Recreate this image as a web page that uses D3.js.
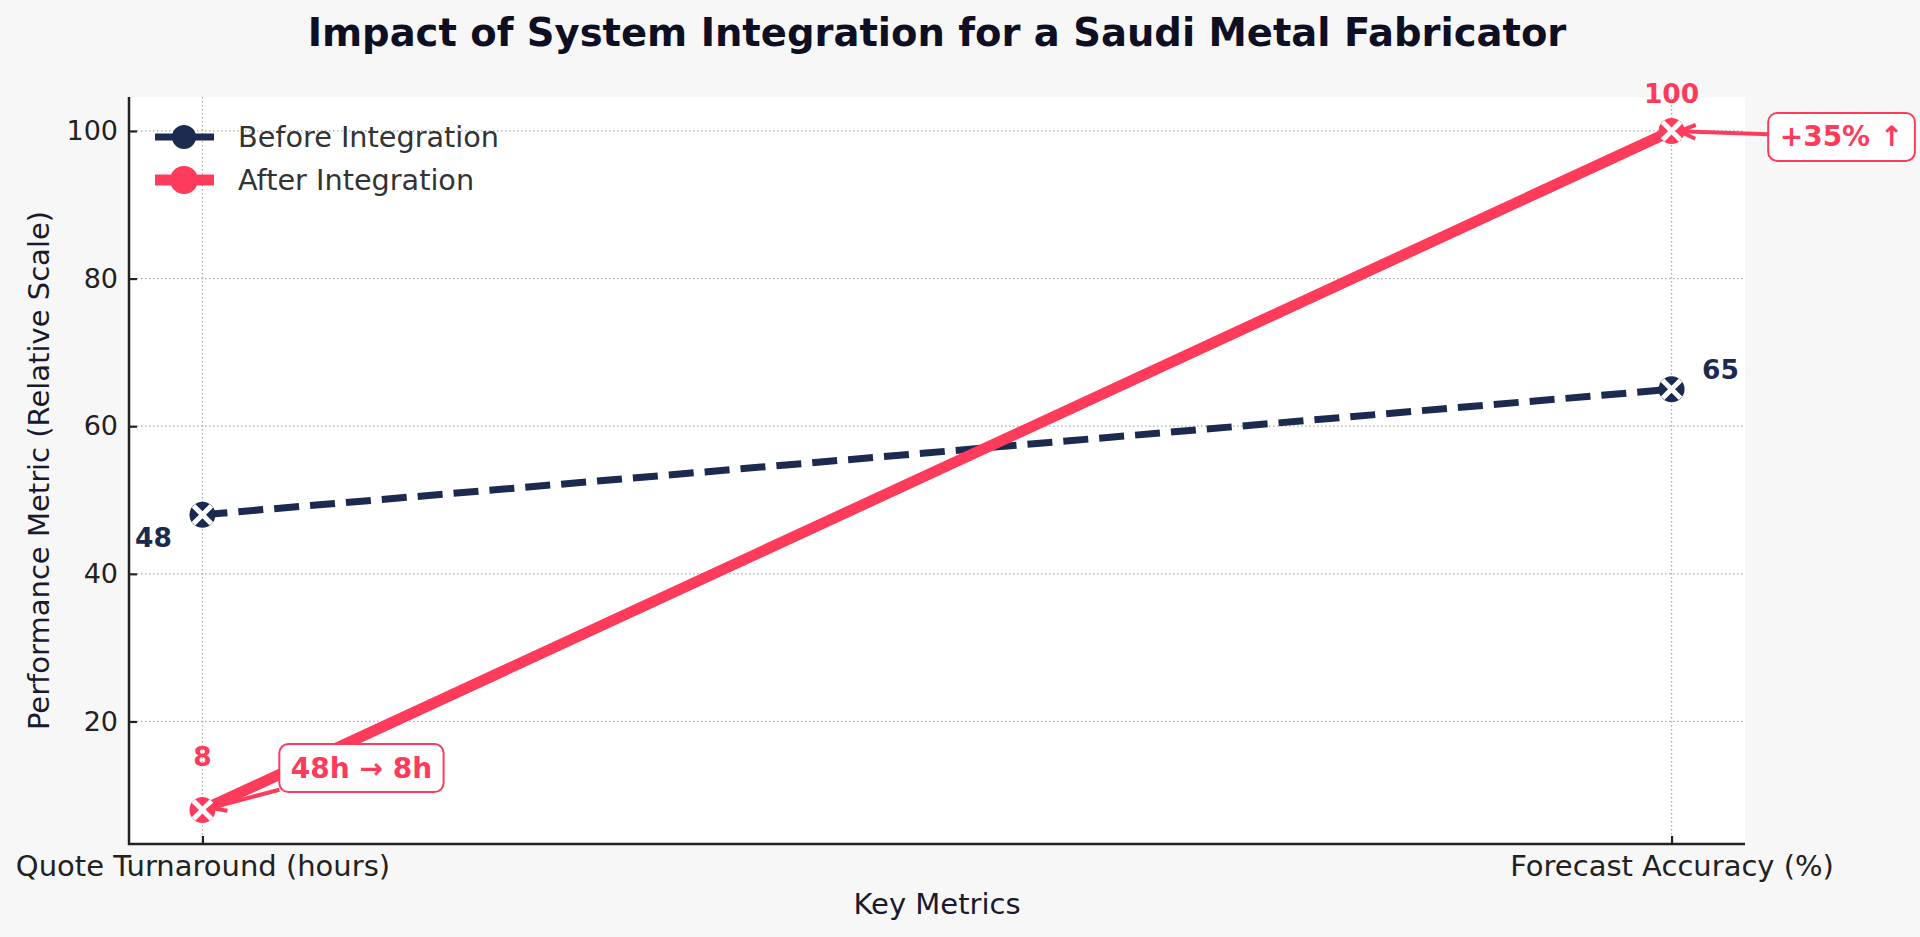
<!DOCTYPE html>
<html>
<head>
<meta charset="utf-8">
<script src="https://cdn.jsdelivr.net/npm/d3@7/dist/d3.min.js"></script>
<style>
  html, body { margin: 0; padding: 0; background: #f7f7f7; }
  svg { display: block; font-family: "DejaVu Sans", sans-serif; }
</style>
</head>
<body>
<svg id="chart" width="1920" height="937"></svg>
<script>
// ---- data ----
const categories = ["Quote Turnaround (hours)", "Forecast Accuracy (%)"];
const beforeValues = [48, 65];
const afterValues = [8, 100];
const seriesNames = ["Before Integration", "After Integration"];
const yTicks = [20, 40, 60, 80, 100];
const annotationTexts = ["48h \u2192 8h", "+35% \u2191"];
const titleText = "Impact of System Integration for a Saudi Metal Fabricator";
const xLabelText = "Key Metrics";
const yLabelText = "Performance Metric (Relative Scale)";

// ---- layout ----
const W = 1920, H = 937;
const plot = { left: 129, right: 1745, top: 97, bottom: 844 };
const navy = "#1b2a4e", pink = "#ff3b5c";

const svg = d3.select("#chart");
svg.append("rect").attr("width", W).attr("height", H).attr("fill", "#f7f7f7");
svg.append("rect").attr("x", plot.left).attr("y", plot.top)
  .attr("width", plot.right - plot.left).attr("height", plot.bottom - plot.top)
  .attr("fill", "#ffffff");

const allVals = beforeValues.concat(afterValues);
const yMin = d3.min(allVals), yMax = d3.max(allVals);
const yPad = (yMax - yMin) * 0.05;
const x = d3.scaleLinear().domain([-0.05, categories.length - 1 + 0.05]).range([plot.left, plot.right]);
const y = d3.scaleLinear().domain([yMin - yPad, yMax + yPad]).range([plot.bottom, plot.top]);

// grid
const grid = svg.append("g");
grid.selectAll("line.hg").data(yTicks).enter().append("line")
  .attr("x1", plot.left).attr("x2", plot.right)
  .attr("y1", d => y(d)).attr("y2", d => y(d))
  .attr("stroke", "#a8a8a8").attr("stroke-width", 1.3).attr("stroke-dasharray", "1.5,2.5");
grid.selectAll("line.vg").data(categories.map((c, i) => i)).enter().append("line")
  .attr("y1", plot.top).attr("y2", plot.bottom)
  .attr("x1", d => x(d)).attr("x2", d => x(d))
  .attr("stroke", "#a8a8a8").attr("stroke-width", 1.3).attr("stroke-dasharray", "1.5,2.5");

// axes
const yAxis = d3.axisLeft(y).tickValues(yTicks).tickSizeInner(-8).tickSizeOuter(0).tickPadding(11);
const gy = svg.append("g").attr("transform", `translate(${plot.left},0)`).call(yAxis);
const xAxis = d3.axisBottom(x).tickValues(categories.map((c, i) => i)).tickFormat(i => categories[i])
  .tickSizeInner(-8).tickSizeOuter(0).tickPadding(11);
const gx = svg.append("g").attr("transform", `translate(0,${plot.bottom})`).call(xAxis);
[gx, gy].forEach(g => {
  g.select(".domain").remove();
  g.selectAll("line").attr("stroke", "#222").attr("stroke-width", 2.2);
  g.selectAll("text").attr("fill", "#222").attr("font-size", 27).attr("font-family", "DejaVu Sans");
});
gx.selectAll("text").attr("font-size", 29);
svg.append("line").attr("x1", plot.left).attr("x2", plot.left).attr("y1", plot.top).attr("y2", plot.bottom + 1)
  .attr("stroke", "#222").attr("stroke-width", 2.5);
svg.append("line").attr("x1", plot.left - 1).attr("x2", plot.right).attr("y1", plot.bottom).attr("y2", plot.bottom)
  .attr("stroke", "#222").attr("stroke-width", 2.5);

// titles
svg.append("text").attr("x", (plot.left + plot.right) / 2).attr("y", 46)
  .attr("text-anchor", "middle").attr("font-weight", "bold").attr("font-size", 38.5)
  .attr("fill", "#0f0f24").text(titleText);
svg.append("text").attr("x", (plot.left + plot.right) / 2).attr("y", 914)
  .attr("text-anchor", "middle").attr("font-size", 29).attr("fill", "#1a1a2e").text(xLabelText);
svg.append("text").attr("transform", `translate(49,${(plot.top + plot.bottom) / 2}) rotate(-90)`)
  .attr("text-anchor", "middle").attr("font-size", 29).attr("fill", "#1a1a2e").text(yLabelText);

// lines
const line = d3.line().x((d, i) => x(i)).y(d => y(d));
svg.append("path").datum(beforeValues).attr("d", line).attr("fill", "none")
  .attr("stroke", navy).attr("stroke-width", 7).attr("stroke-dasharray", "25,11");
svg.append("path").datum(afterValues).attr("d", line).attr("fill", "none")
  .attr("stroke", pink).attr("stroke-width", 11).attr("stroke-linecap", "butt");

// markers
function drawMarkers(vals, color) {
  const g = svg.append("g");
  vals.forEach((v, i) => {
    const cx = x(i), cy = y(v);
    g.append("circle").attr("cx", cx).attr("cy", cy).attr("r", 13).attr("fill", color);
    const s = 9;
    g.append("path").attr("d", `M${cx - s},${cy - s}L${cx + s},${cy + s}M${cx - s},${cy + s}L${cx + s},${cy - s}`)
      .attr("stroke", "#fff").attr("stroke-width", 5);
  });
}
drawMarkers(beforeValues, navy);
drawMarkers(afterValues, pink);

// value labels
const beforeLabelOffsets = [[-49, 32], [49, -10]];
const afterLabelOffsets = [[0, -44], [0, -28]];
beforeValues.forEach((v, i) => {
  svg.append("text").attr("x", x(i) + beforeLabelOffsets[i][0]).attr("y", y(v) + beforeLabelOffsets[i][1])
    .attr("text-anchor", "middle").attr("font-weight", "bold").attr("font-size", 26.5)
    .attr("fill", navy).text(v);
});
afterValues.forEach((v, i) => {
  svg.append("text").attr("x", x(i) + afterLabelOffsets[i][0]).attr("y", y(v) + afterLabelOffsets[i][1])
    .attr("text-anchor", "middle").attr("font-weight", "bold").attr("font-size", 26.5)
    .attr("fill", pink).text(v);
});

// annotations (boxes + arrows)
const annOffsets = [[159, -42], [170, 6]];
afterValues.forEach((v, i) => {
  const px = x(i), py = y(v);
  const cx = px + annOffsets[i][0], cy = py + annOffsets[i][1];
  const g = svg.append("g");
  const t = g.append("text").attr("x", cx).attr("y", cy).attr("text-anchor", "middle")
    .attr("dominant-baseline", "central").attr("font-weight", "bold").attr("font-size", 28)
    .attr("fill", pink).text(annotationTexts[i]);
  const bb = t.node().getBBox();
  const bw = bb.width + 23, bh = 48;
  const bx = cx - bw / 2, by = cy - bh / 2;
  const dx = px - cx, dy = py - cy;
  const tEdge = Math.min(Math.abs((bw / 2) / dx || Infinity), Math.abs((bh / 2) / dy || Infinity));
  const sx = cx + dx * tEdge, sy = cy + dy * tEdge;
  const len = Math.hypot(dx, dy);
  const ux = dx / len, uy = dy / len;
  const ex = px - ux * 8, ey = py - uy * 8;
  g.insert("path", "text").attr("d", `M${sx},${sy}L${ex},${ey}`).attr("stroke", pink)
    .attr("stroke-width", 4).attr("fill", "none");
  const ah = 16, aw = 7;
  const bxp = ex - ux * ah, byp = ey - uy * ah;
  g.insert("path", "text").attr("d",
    `M${bxp - uy * aw},${byp + ux * aw}L${ex},${ey}L${bxp + uy * aw},${byp - ux * aw}`)
    .attr("stroke", pink).attr("stroke-width", 4).attr("fill", "none").attr("stroke-linejoin", "miter");
  g.insert("rect", "text").attr("x", bx).attr("y", by).attr("width", bw).attr("height", bh)
    .attr("rx", 9).attr("fill", "#fff").attr("stroke", pink).attr("stroke-width", 2);
});

// legend
const legend = svg.append("g");
const legendItems = [
  { name: seriesNames[0], color: navy, w: 7, r: 12, yy: 137 },
  { name: seriesNames[1], color: pink, w: 11, r: 14, yy: 180 }
];
legendItems.forEach(it => {
  legend.append("line").attr("x1", 155).attr("x2", 214).attr("y1", it.yy).attr("y2", it.yy)
    .attr("stroke", it.color).attr("stroke-width", it.w);
  legend.append("circle").attr("cx", 184).attr("cy", it.yy).attr("r", it.r).attr("fill", it.color);
  legend.append("text").attr("x", 238).attr("y", it.yy).attr("dominant-baseline", "central")
    .attr("font-size", 28.7).attr("fill", "#333").text(it.name);
});
</script>
</body>
</html>
